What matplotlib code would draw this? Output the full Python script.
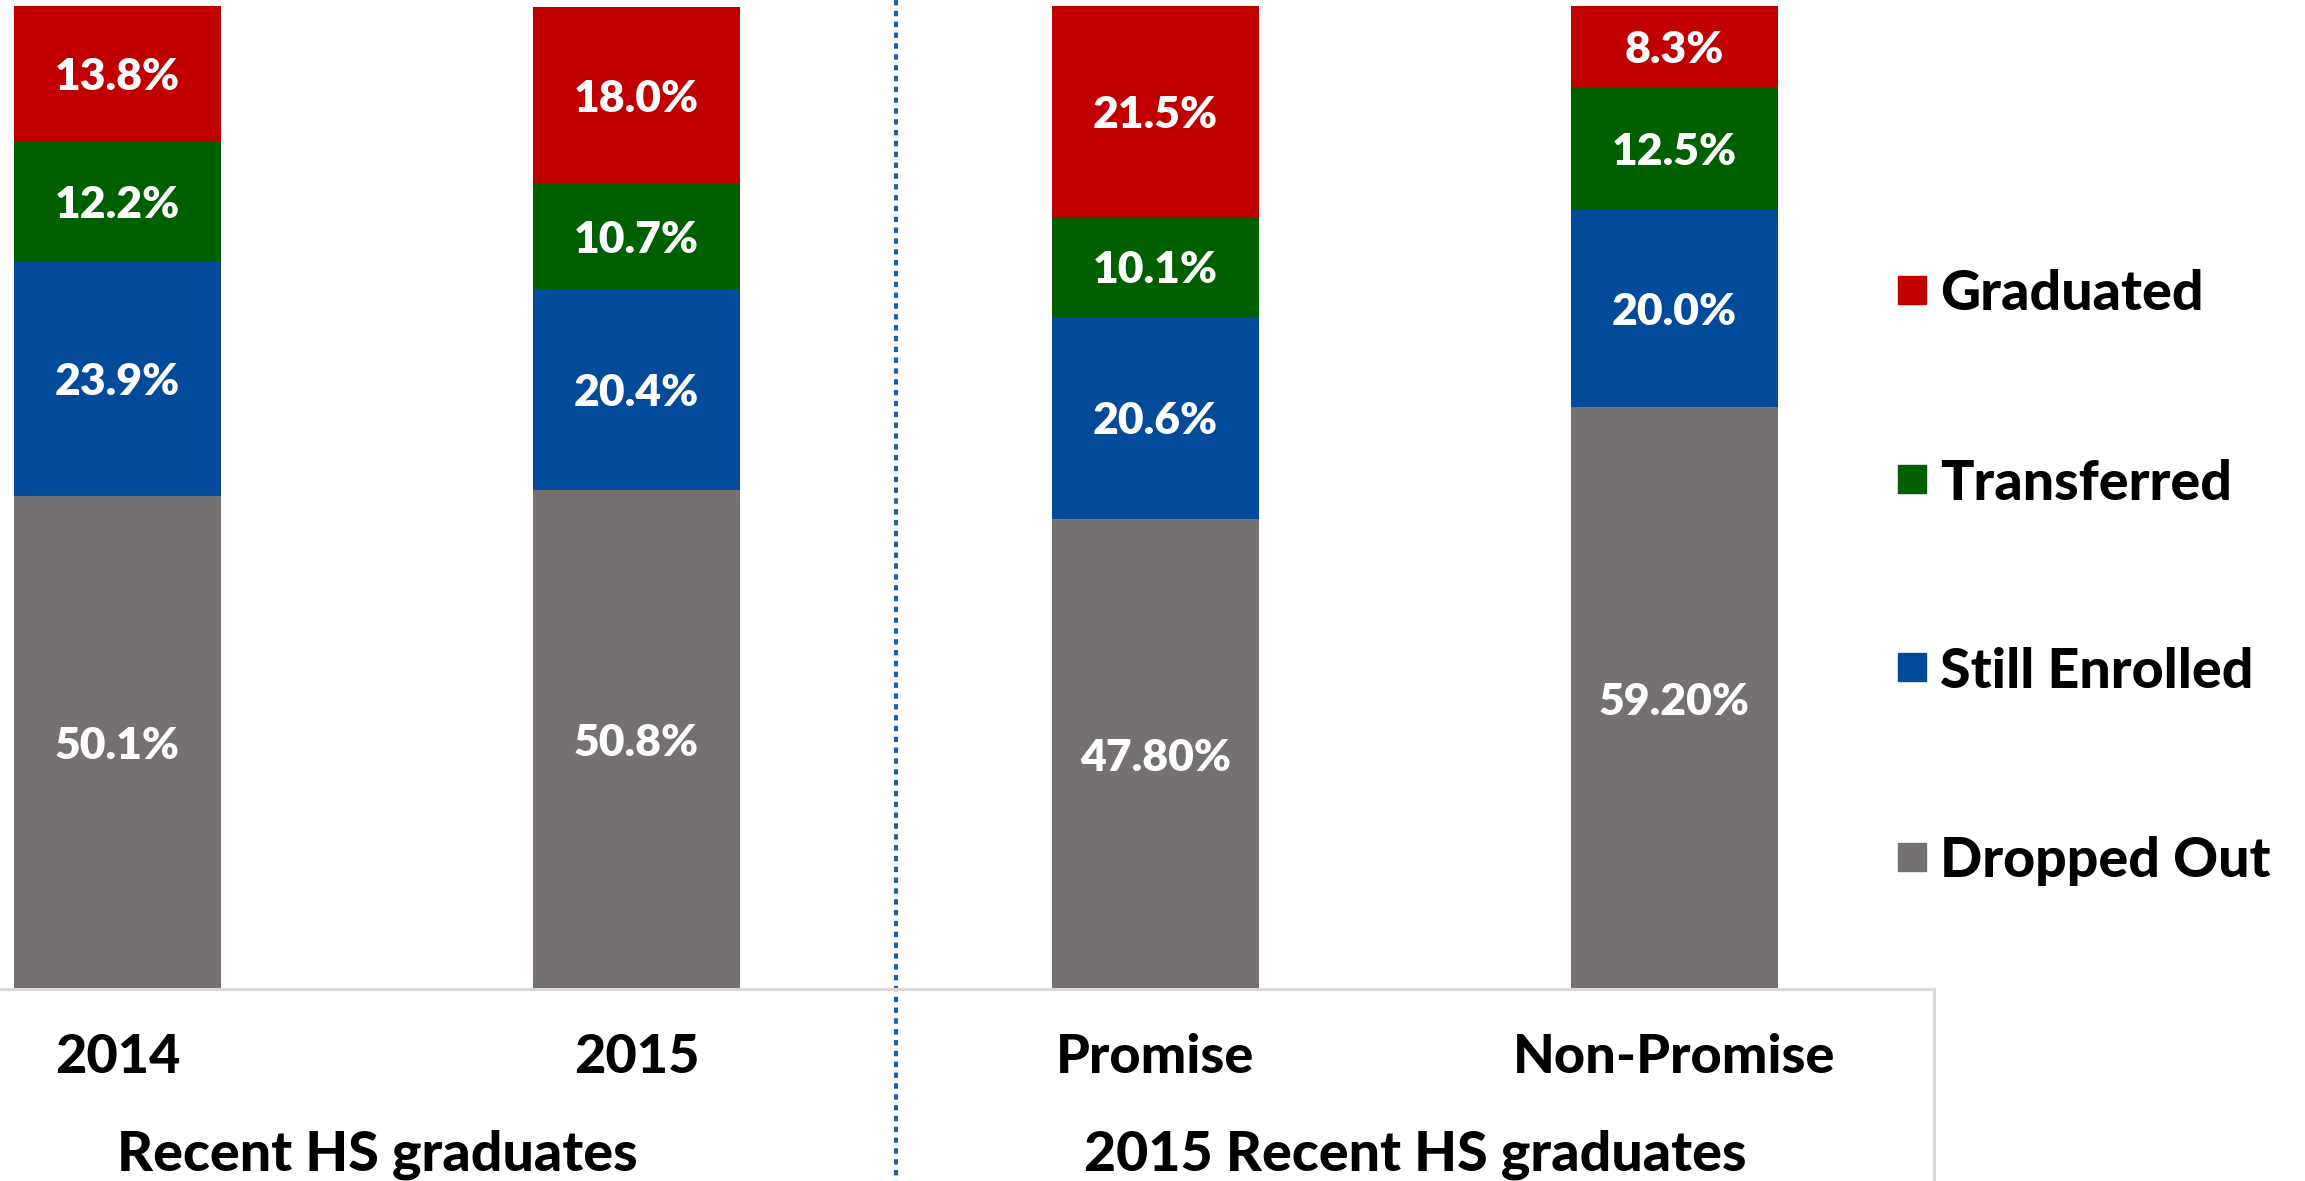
import matplotlib
matplotlib.use('Agg')
import matplotlib.pyplot as plt
from matplotlib.patches import Rectangle
from matplotlib.lines import Line2D

plt.rcParams.update({
    'font.family': ['Lato', 'DejaVu Sans'],
    'font.weight': 'bold',
    'savefig.dpi': 100,
    'figure.dpi': 100
})

# data
categories = ['2014', '2015', 'Promise', 'Non-Promise']
groups = ['Recent HS graduates', '2015 Recent HS graduates']
series = ['Dropped Out', 'Still Enrolled', 'Transferred', 'Graduated']
dropped_out = [50.1, 50.8, 47.8, 59.2]
still_enrolled = [23.9, 20.4, 20.6, 20.0]
transferred = [12.2, 10.7, 10.1, 12.5]
graduated = [13.8, 18.0, 21.5, 8.3]
labels_dropped = ['50.1%', '50.8%', '47.80%', '59.20%']
labels_still = ['23.9%', '20.4%', '20.6%', '20.0%']
labels_transf = ['12.2%', '10.7%', '10.1%', '12.5%']
labels_grad = ['13.8%', '18.0%', '21.5%', '8.3%']

colors = ['#767171', '#034B9A', '#006000', '#C00000']

W, H = 2305, 1181
fig = plt.figure(figsize=(W / 100, H / 100))
base_px = 989
right_px = 1934
ax = fig.add_axes([0, (H - base_px) / H, right_px / W, base_px / H])

x = list(range(len(categories)))
values = [dropped_out, still_enrolled, transferred, graduated]
texts = [labels_dropped, labels_still, labels_transf, labels_grad]
bottom = [0.0] * len(categories)
for vals, labs, col in zip(values, texts, colors):
    ax.bar(x, vals, width=0.4, bottom=bottom, color=col, edgecolor='none')
    for xi, v, b, t in zip(x, vals, bottom, labs):
        ax.text(xi, b + v / 2, t, ha='center', va='center_baseline',
                color='white', fontsize=32, fontweight='heavy')
    bottom = [b + v for b, v in zip(bottom, vals)]

ax.set_xlim(-0.5 + 142 / 519, 3.5)
ax.set_ylim(0, 100.6)
ax.axis('off')

# axis line + right border of category area
fig.add_artist(Line2D([0, right_px / W], [(H - base_px) / H] * 2,
                      color='#D9D9D9', lw=2.2, transform=fig.transFigure))
fig.add_artist(Line2D([right_px / W] * 2, [(H - base_px) / H, 0],
                      color='#D9D9D9', lw=2.2, transform=fig.transFigure))

# dotted divider between groups
ax.plot([1.5, 1.5], [1.0, -0.2], transform=ax.get_xaxis_transform(),
        color='#1F5FAD', lw=3, ls=(0, (1.3, 1.3)), clip_on=False)

# category labels
xt = ax.get_xaxis_transform()
for xi, c in zip(x, categories):
    ax.text(xi, (base_px - 1073) / base_px, c, transform=xt, ha='center',
            va='baseline', fontsize=39, fontweight='black', color='black')
for gi, g in enumerate(groups):
    ax.text(0.5 + 2 * gi, (base_px - 1170) / base_px, g, transform=xt,
            ha='center', va='baseline', fontsize=40, fontweight='black',
            color='black')

# legend
leg_y = [290, 479, 667, 857]
for name, col, yc in zip(series[::-1], colors[::-1], leg_y):
    fig.add_artist(Rectangle((1898 / W, (H - yc - 14) / H), 28 / W, 28 / H,
                             color=col, transform=fig.transFigure))
    fig.text(1940 / W, (H - yc) / H, name, ha='left', va='center_baseline',
             fontsize=40, fontweight='black', color='black')

fig.savefig('out.png')
